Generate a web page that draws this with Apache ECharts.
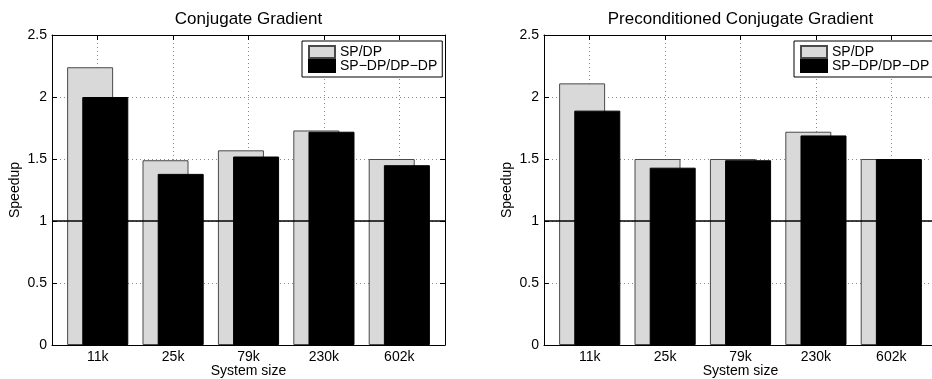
<!DOCTYPE html>
<html>
<head>
<meta charset="utf-8">
<script src="https://cdn.jsdelivr.net/npm/echarts@6/dist/echarts.min.js"></script>
<style>
html,body{margin:0;padding:0;background:#fff;}
#chart{width:932px;height:379px;}
</style>
</head>
<body>
<div id="chart"></div>
<script>
// ---- data ----
const categories = ['11k', '25k', '79k', '230k', '602k'];
const seriesNames = ['SP/DP', 'SP\u2212DP/DP\u2212DP'];
const cgSPDP = [2.24, 1.49, 1.57, 1.73, 1.50];
const cgMixed = [2.00, 1.38, 1.52, 1.72, 1.45];
const pcgSPDP = [2.11, 1.50, 1.50, 1.72, 1.50];
const pcgMixed = [1.89, 1.43, 1.49, 1.69, 1.50];
const yTickValues = [0, 0.5, 1, 1.5, 2, 2.5];
const referenceLevel = 1;
const titles = ['Conjugate Gradient', 'Preconditioned Conjugate Gradient'];

const FONT = "'Liberation Sans', Arial, Helvetica, sans-serif";
const yMin = yTickValues[0];
const yMax = yTickValues[yTickValues.length - 1];
const yStep = yTickValues[1] - yTickValues[0];

const chart = echarts.init(document.getElementById('chart'), null, {renderer: 'canvas'});

const grid = [], xAxis = [], yAxis = [], series = [], legend = [], title = [];

function panel(p, left, titleText, a, b) {
  const top = 35, height = 310, width = 393;
  const innerPad = 45.7;
  const og = grid.length;
  grid.push({left: left, top: top, width: width, height: height, containLabel: false, outerBoundsMode: 'none'});
  grid.push({left: left + innerPad, top: top, width: width - 2 * innerPad, height: height, containLabel: false, outerBoundsMode: 'none'});
  const ig = og + 1;

  // outer x axes (frame bottom / top)
  const xOB = xAxis.length;
  xAxis.push({type: 'value', gridIndex: og, min: 0, max: 1, position: 'bottom', z: 10,
    axisLine: {show: true, onZero: false, lineStyle: {color: '#000', width: 1}},
    axisTick: {show: false}, axisLabel: {show: false}, splitLine: {show: false}});
  xAxis.push({type: 'value', gridIndex: og, min: 0, max: 1, position: 'top', z: 10,
    axisLine: {show: true, onZero: false, lineStyle: {color: '#000', width: 1}},
    axisTick: {show: false}, axisLabel: {show: false}, splitLine: {show: false}});
  // inner category axes
  const xIB = xAxis.length;
  xAxis.push({type: 'category', gridIndex: ig, data: categories, boundaryGap: false, position: 'bottom',
    axisLine: {show: false},
    axisTick: {show: true, inside: true, length: 5, lineStyle: {color: '#000'}},
    axisLabel: {show: true, margin: 5, fontSize: 14, color: '#000', fontFamily: FONT, interval: 0},
    splitLine: {show: true, lineStyle: {color: '#8a8a8a', type: [1, 3], width: 1}},
    name: 'System size', nameLocation: 'middle', nameGap: 19, nameMoveOverlap: false,
    nameTextStyle: {fontSize: 14, color: '#000', fontFamily: FONT}});
  xAxis.push({type: 'category', gridIndex: ig, data: categories, boundaryGap: false, position: 'top',
    axisLine: {show: false},
    axisTick: {show: true, inside: true, length: 5, lineStyle: {color: '#000'}},
    axisLabel: {show: false}, splitLine: {show: false}});

  // outer y axes
  const yOL = yAxis.length;
  yAxis.push({type: 'value', gridIndex: og, min: yMin, max: yMax, interval: yStep, position: 'left',
    axisLine: {show: true, onZero: false, lineStyle: {color: '#000', width: 1}},
    axisTick: {show: true, inside: true, length: 5, lineStyle: {color: '#000'}},
    axisLabel: {show: true, margin: 5, fontSize: 14, color: '#000', fontFamily: FONT},
    splitLine: {show: true, lineStyle: {color: '#8a8a8a', type: [1, 3], width: 1}},
    name: 'Speedup', nameLocation: 'middle', nameGap: 30, nameRotate: 90, nameMoveOverlap: false,
    nameTextStyle: {fontSize: 14, color: '#000', fontFamily: FONT}});
  yAxis.push({type: 'value', gridIndex: og, min: yMin, max: yMax, interval: yStep, position: 'right',
    axisLine: {show: true, onZero: false, lineStyle: {color: '#000', width: 1}},
    axisTick: {show: true, inside: true, length: 5, lineStyle: {color: '#000'}},
    axisLabel: {show: false}, splitLine: {show: false}});
  const yI = yAxis.length;
  yAxis.push({type: 'value', gridIndex: ig, min: yMin, max: yMax, interval: yStep, show: false});

  series.push({name: seriesNames[0], type: 'bar', xAxisIndex: xIB, yAxisIndex: yI, data: a,
    barWidth: 46, barGap: '-67%', clip: false, z: 2,
    itemStyle: {color: '#d9d9d9', borderColor: '#4a4a4a', borderWidth: 1}});
  series.push({name: seriesNames[1], type: 'bar', xAxisIndex: xIB, yAxisIndex: yI, data: b,
    barWidth: 46, barGap: '-67%', clip: false, z: 3,
    itemStyle: {color: '#000', borderColor: '#000', borderWidth: 1}});
  // reference line at speedup = 1 across the whole panel
  series.push({type: 'line', xAxisIndex: xOB, yAxisIndex: yOL, z: 6,
    data: [[0, referenceLevel], [1, referenceLevel]], symbol: 'none', silent: true,
    lineStyle: {color: '#000', width: 1.3}});

  legend.push({left: left + 250, top: 41, orient: 'vertical', data: seriesNames,
    icon: 'rect', itemWidth: 26, itemHeight: 12, itemGap: 0, padding: [4, 5, 4, 6],
    borderColor: '#000', borderWidth: 1, backgroundColor: '#fff', selectedMode: false, z: 20,
    textStyle: {fontSize: 14, lineHeight: 14, color: '#000', fontFamily: FONT}});

  title.push({text: titleText, left: left + width / 2, top: 10.5, textAlign: 'center', padding: 0,
    textStyle: {fontSize: 17, fontWeight: 'normal', color: '#000', fontFamily: FONT}});
}

panel(0, 52, titles[0], cgSPDP, cgMixed);
panel(1, 544, titles[1], pcgSPDP, pcgMixed);

chart.setOption({
  animation: false,
  backgroundColor: '#fff',
  title: title,
  legend: legend,
  grid: grid,
  xAxis: xAxis,
  yAxis: yAxis,
  series: series
});
</script>
</body>
</html>
